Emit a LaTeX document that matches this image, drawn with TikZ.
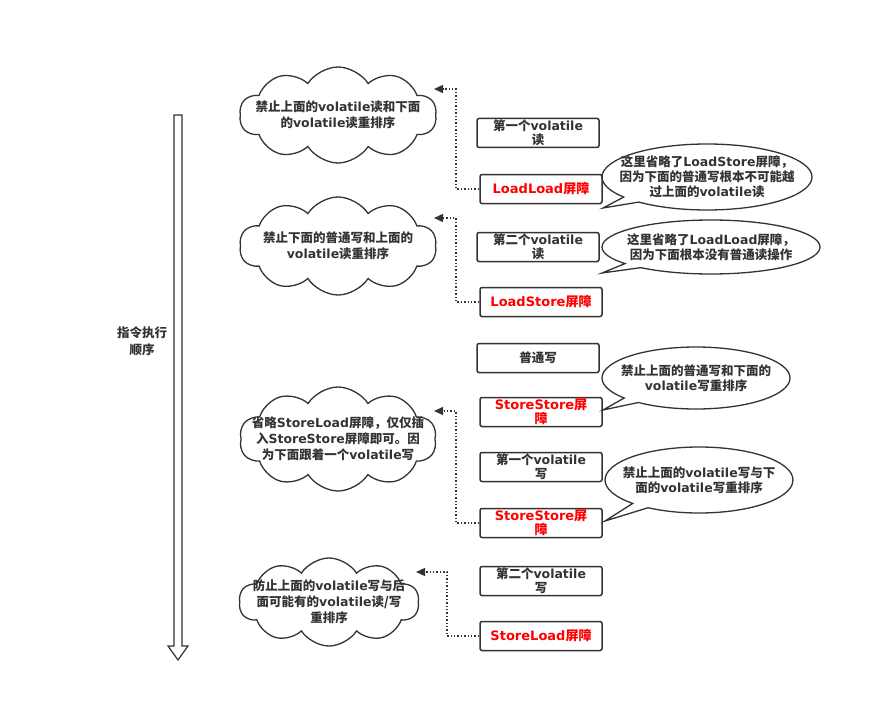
\documentclass[tikz,border=0pt]{standalone}
\usepackage{fontspec}
\setmainfont{Noto Sans CJK SC}
\newfontfamily\latf{DejaVu Sans}
\newcommand\latw[1]{{\latf #1}}
\usetikzlibrary{shapes.symbols,shapes.callouts,arrows.meta,calc}
\definecolor{ink}{HTML}{333333}
\definecolor{redt}{HTML}{FF0000}
\begin{document}
\begin{tikzpicture}[x=1pt,y=-1pt,
  every node/.style={font=\fontsize{12.5}{14}\selectfont\bfseries, text=ink},
  opbox/.style={draw=ink, line width=1.5pt, rounded corners=2pt, minimum width=122, minimum height=29, inner sep=0pt, align=center},
  barbox/.style={opbox, text=redt, font=\fontsize{13}{14}\selectfont\bfseries},
  cloudbox/.style={cloud, draw=ink, line width=1.3pt, cloud puffs=10, cloud puff arc=115, cloud ignores aspect, inner sep=0pt},
  cltext/.style={align=center, font=\fontsize{12.5}{16}\selectfont\bfseries},
  callbox/.style={ellipse callout, draw=ink, line width=1.3pt, inner sep=0pt, callout pointer arc=12},
  calltext/.style={align=center, font=\fontsize{12.5}{15}\selectfont\bfseries},
  conn/.style={draw=ink, dotted, line width=1.4pt, -{Triangle[length=9pt,width=8pt]}}
]
\useasboundingbox (0,0) rectangle (882,722);

% execution order arrow
\draw[draw=ink, line width=1.2pt, fill=white] (174,115) -- (182,115) -- (182,646) -- (188,646) -- (178,660) -- (168,646) -- (174,646) -- cycle;
\node[align=center, font=\fontsize{12.5}{17}\selectfont\bfseries] (order) at (142,341) {指令执行\\顺序};

% boxes
\node[opbox]  (b1)  at (538,133) {第一个\latw{volatile}\\读};
\node[barbox] (b2)  at (541,189) {\latw{LoadLoad}屏障};
\node[opbox]  (b3)  at (538,247) {第二个\latw{volatile}\\读};
\node[barbox] (b4)  at (541,302) {\latw{LoadStore}屏障};
\node[opbox]  (b5)  at (538,358) {普通写};
\node[barbox] (b6)  at (541,412) {\latw{StoreStore}屏\\障};
\node[opbox]  (b7)  at (541,467) {第一个\latw{volatile}\\写};
\node[barbox] (b8)  at (541,523) {\latw{StoreStore}屏\\障};
\node[opbox]  (b9)  at (541,581) {第二个\latw{volatile}\\写};
\node[barbox] (b10) at (541,636) {\latw{StoreLoad}屏障};

% clouds
\node[cloudbox, minimum width=197, minimum height=96] (cl1) at (338,115) {};
\node[cltext] (ct1) at (cl1.center) {禁止上面的\latw{volatile}读和下面\\的\latw{volatile}读重排序};
\node[cloudbox, minimum width=197, minimum height=98] (cl2) at (338,246) {};
\node[cltext] (ct2) at (cl2.center) {禁止下面的普通写和上面的\\\latw{volatile}读重排序};
\node[cloudbox, minimum width=197, minimum height=104] (cl3) at (338,439) {};
\node[cltext] (ct3) at (cl3.center) {省略\latw{StoreLoad}屏障，仅仅插\\入\latw{StoreStore}屏障即可。因\\为下面跟着一个\latw{volatile}写};
\node[cloudbox, minimum width=180, minimum height=88] (cl4) at (329,602) {};
\node[cltext] (ct4) at (cl4.center) {防止上面的\latw{volatile}写与后\\面可能有的\latw{volatile}读/写\\重排序};

% callouts
\coordinate (p1) at (603,208);
\coordinate (p2) at (602,273);
\coordinate (p3) at (603,410);
\coordinate (p4) at (605,521);
\node[callbox, minimum width=210, minimum height=66, callout absolute pointer={(p1)}] (c1) at (707,177) {};
\node[calltext] (ctx1) at (c1.center) {这里省略了\latw{LoadStore}屏障，\\因为下面的普通写根本不可能越\\过上面的\latw{volatile}读};
\node[callbox, minimum width=218, minimum height=54, callout absolute pointer={(p2)}] (c2) at (711,247) {};
\node[calltext] (ctx2) at (c2.center) {这里省略了\latw{LoadLoad}屏障，\\因为下面根本没有普通读操作};
\node[callbox, minimum width=188, minimum height=62, callout absolute pointer={(p3)}] (c3) at (696,378) {};
\node[calltext] (ctx3) at (c3.center) {禁止上面的普通写和下面的\\\latw{volatile}写重排序};
\node[callbox, minimum width=188, minimum height=66, callout absolute pointer={(p4)}] (c4) at (699,480) {};
\node[calltext] (ctx4) at (c4.center) {禁止上面的\latw{volatile}写与下\\面的\latw{volatile}写重排序};

% dotted connectors
\coordinate (a1) at (434,89);
\coordinate (a2) at (434,218);
\coordinate (a3) at (434,411);
\coordinate (a4) at (416,572);
\draw[conn] (b2.west) -- (456,189) |- (a1);
\draw[conn] (b4.west) -- (456,302) |- (a2);
\draw[conn] (b8.west) -- (456,523) |- (a3);
\draw[conn] (b10.west) -- (447,636) |- (a4);
\end{tikzpicture}
\end{document}
